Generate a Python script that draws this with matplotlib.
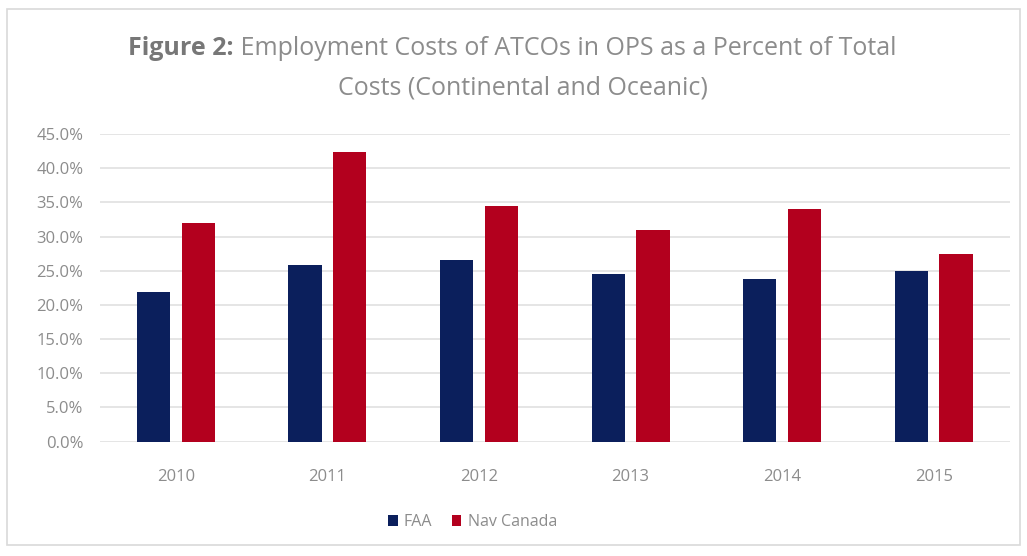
import matplotlib
matplotlib.use("Agg")
import matplotlib.pyplot as plt
import numpy as np
from matplotlib.patches import Rectangle

years = ["2010", "2011", "2012", "2013", "2014", "2015"]
faa = [21.9, 25.8, 26.6, 24.5, 23.8, 24.9]
nav_canada = [32.0, 42.3, 34.4, 31.0, 34.0, 27.4]

plt.rcParams['font.family'] = ['Open Sans', 'DejaVu Sans']

fig = plt.figure(figsize=(10.27, 5.56), dpi=100)
fig.patches.append(Rectangle((0.007, 0.02), 0.986, 0.963, transform=fig.transFigure,
                             fill=False, edgecolor='#D9D9D9', linewidth=1.2))
ax = fig.add_axes([0.0974, 0.2056, 0.8856, 0.5534])

x = np.arange(len(years))
w = 0.22
gap = 0.075
ax.bar(x - (w + gap) / 2, faa, w, color='#0B1F5C', label='FAA', zorder=3)
ax.bar(x + (w + gap) / 2, nav_canada, w, color='#B3001E', label='Nav Canada', zorder=3)

ax.set_xlim(-0.5, len(years) - 0.5)
ax.set_ylim(0, 45)
ax.set_yticks(np.arange(0, 46, 5))
ax.set_yticklabels([f"{v:.1f}%" for v in np.arange(0, 46, 5)])
ax.set_xticks(x)
ax.set_xticklabels(years)
ax.tick_params(axis='both', length=0, labelcolor='#8C8C8C', labelsize=12)
ax.tick_params(axis='x', pad=20)
ax.tick_params(axis='y', pad=12)
ax.grid(axis='y', color='#E3E3E3', linewidth=1.3, zorder=0)
for s in ax.spines.values():
    s.set_visible(False)

# title: bold "Figure 2:" followed by regular text, measured so the pieces join
fs = 18
t1 = fig.text(0, 0.913, "Figure 2:", ha='left', va='center', fontsize=fs,
              color='#777777', fontweight='bold')
t2 = fig.text(0, 0.913, " Employment Costs of ATCOs in OPS as a Percent of Total",
              ha='left', va='center', fontsize=fs, color='#8C8C8C')
fig.canvas.draw()
r = fig.canvas.get_renderer()
w1 = t1.get_window_extent(r).width / fig.bbox.width
w2 = t2.get_window_extent(r).width / fig.bbox.width
start = 0.499 - (w1 + w2) / 2
t1.set_x(start)
t2.set_x(start + w1)
fig.text(0.509, 0.842, "Costs (Continental and Oceanic)", ha='center', va='center',
         fontsize=fs, color='#8C8C8C')

leg = fig.legend(loc='center', bbox_to_anchor=(0.46, 0.061), ncol=2, frameon=False,
                 fontsize=11.5, handlelength=0.6, handleheight=0.6, columnspacing=1.2,
                 handletextpad=0.4)
for t in leg.get_texts():
    t.set_color('#8C8C8C')

fig.savefig("out.png", dpi=100)
